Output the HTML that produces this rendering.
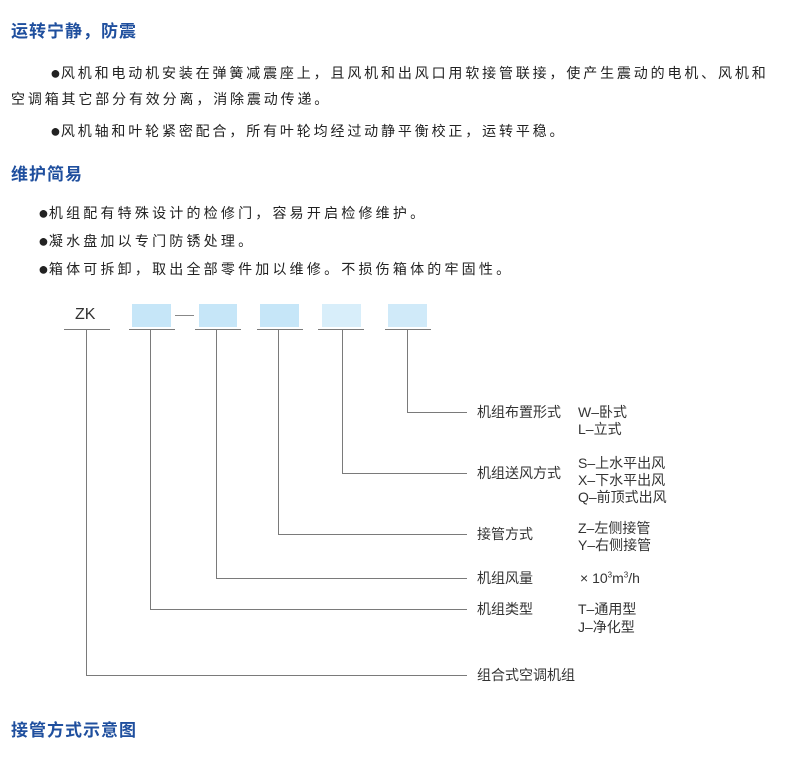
<!DOCTYPE html>
<html><head><meta charset="utf-8"><style>
body{margin:0;width:790px;height:764px;background:#fff;position:relative;overflow:hidden;font-family:"Liberation Sans","Noto Sans CJK SC",sans-serif;color:#222}
.a{position:absolute;white-space:nowrap;line-height:1}
.h{color:#1f4f9e;font-size:17px;letter-spacing:1px;font-weight:bold}
.p{font-size:14px;letter-spacing:2.85px;color:#222}
.p i{font-style:normal;font-size:18px;letter-spacing:0;vertical-align:-1px}
.s{font-size:14px;color:#333}
.b{position:absolute;background:#c6e6f8}
.l{position:absolute;background:#7a7a7a}
</style></head><body>
<div class="a h" style="left:11px;top:23px">运转宁静，防震</div>
<div class="a p" style="left:50px;top:64px"><i>●</i>风机和电动机安装在弹簧减震座上，且风机和出风口用软接管联接，使产生震动的电机、风机和</div>
<div class="a p" style="left:11px;top:92px">空调箱其它部分有效分离，消除震动传递。</div>
<div class="a p" style="left:50px;top:122px"><i>●</i>风机轴和叶轮紧密配合，所有叶轮均经过动静平衡校正，运转平稳。</div>
<div class="a h" style="left:11px;top:166px">维护简易</div>
<div class="a p" style="left:38px;top:204px;letter-spacing:3.2px"><i>●</i>机组配有特殊设计的检修门，容易开启检修维护。</div>
<div class="a p" style="left:38px;top:232px;letter-spacing:3.2px"><i>●</i>凝水盘加以专门防锈处理。</div>
<div class="a p" style="left:38px;top:260px;letter-spacing:3.2px"><i>●</i>箱体可拆卸，取出全部零件加以维修。不损伤箱体的牢固性。</div>

<div class="a" style="left:75px;top:307px;font-size:16px;color:#333">ZK</div>
<div class="b" style="left:132px;top:304px;width:39px;height:23px"></div>
<div class="b" style="left:199px;top:304px;width:38px;height:23px"></div>
<div class="b" style="left:260px;top:304px;width:39px;height:23px"></div>
<div class="b" style="left:322px;top:304px;width:39px;height:23px;background:#d8eefa"></div>
<div class="b" style="left:388px;top:304px;width:39px;height:23px;background:#d0eaf9"></div>
<div class="l" style="left:175px;top:315px;width:19px;height:1px;background:#888"></div>
<div class="l" style="left:64px;top:329px;width:46px;height:1px"></div>
<div class="l" style="left:129px;top:329px;width:46px;height:1px"></div>
<div class="l" style="left:195px;top:329px;width:46px;height:1px"></div>
<div class="l" style="left:257px;top:329px;width:46px;height:1px"></div>
<div class="l" style="left:318px;top:329px;width:46px;height:1px"></div>
<div class="l" style="left:385px;top:329px;width:46px;height:1px"></div>

<div class="l" style="left:407px;top:329px;width:1px;height:84px"></div>
<div class="l" style="left:407px;top:412px;width:60px;height:1px"></div>
<div class="l" style="left:342px;top:329px;width:1px;height:145px"></div>
<div class="l" style="left:342px;top:473px;width:125px;height:1px"></div>
<div class="l" style="left:278px;top:329px;width:1px;height:206px"></div>
<div class="l" style="left:278px;top:534px;width:189px;height:1px"></div>
<div class="l" style="left:216px;top:329px;width:1px;height:250px"></div>
<div class="l" style="left:216px;top:578px;width:251px;height:1px"></div>
<div class="l" style="left:150px;top:329px;width:1px;height:281px"></div>
<div class="l" style="left:150px;top:609px;width:317px;height:1px"></div>
<div class="l" style="left:86px;top:329px;width:1px;height:347px"></div>
<div class="l" style="left:86px;top:675px;width:381px;height:1px"></div>

<div class="a s" style="left:477px;top:405px">机组布置形式</div>
<div class="a s" style="left:477px;top:466px">机组送风方式</div>
<div class="a s" style="left:477px;top:527px">接管方式</div>
<div class="a s" style="left:477px;top:571px">机组风量</div>
<div class="a s" style="left:477px;top:602px">机组类型</div>
<div class="a s" style="left:477px;top:668px">组合式空调机组</div>

<div class="a s" style="left:578px;top:405px">W–卧式</div>
<div class="a s" style="left:578px;top:422px">L–立式</div>
<div class="a s" style="left:578px;top:456px">S–上水平出风</div>
<div class="a s" style="left:578px;top:473px">X–下水平出风</div>
<div class="a s" style="left:578px;top:490px">Q–前顶式出风</div>
<div class="a s" style="left:578px;top:521px">Z–左侧接管</div>
<div class="a s" style="left:578px;top:538px">Y–右侧接管</div>
<div class="a s" style="left:580px;top:571px">× 10<sup style="font-size:8px">3</sup>m<sup style="font-size:8px">3</sup>/h</div>
<div class="a s" style="left:578px;top:602px">T–通用型</div>
<div class="a s" style="left:578px;top:620px">J–净化型</div>

<div class="a h" style="left:11px;top:722px;color:#1f4f9e">接管方式示意图</div>
</body></html>
